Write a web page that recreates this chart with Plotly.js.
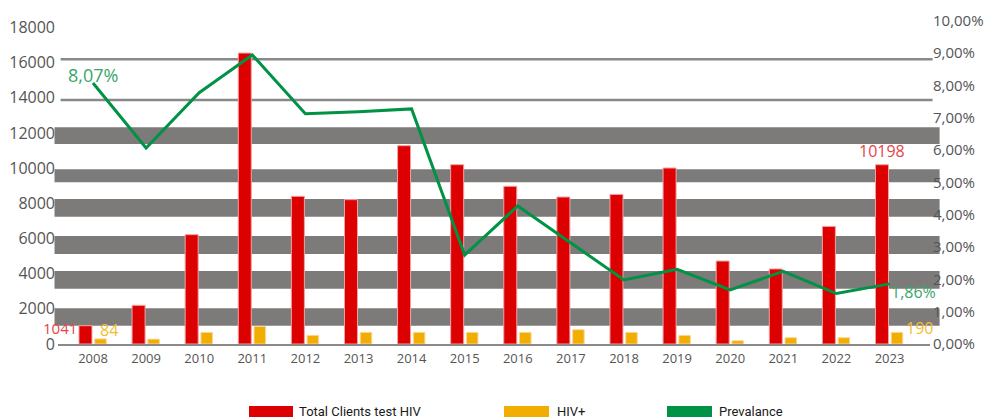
<!DOCTYPE html>
<html>
<head>
<meta charset="utf-8">
<script src="https://cdn.plot.ly/plotly-3.0.1.min.js"></script>
<style>
html,body{margin:0;padding:0;background:#fff;}
#chart{width:986px;height:420px;}
</style>
</head>
<body>
<div id="chart"></div>
<script>
// ---- data ----
const years = ['2008','2009','2010','2011','2012','2013','2014','2015','2016','2017','2018','2019','2020','2021','2022','2023'];
const totalTested = [1041, 2200, 6220, 16550, 8400, 8210, 11280, 10200, 8970, 8360, 8510, 10010, 4720, 4270, 6690, 10198];
const hivPositive = [84, 80, 190, 288, 141, 190, 190, 190, 190, 234, 190, 141, 54, 103, 103, 190];
const prevalence = [8.07, 6.06, 7.77, 8.94, 7.12, 7.18, 7.27, 2.75, 4.27, 3.12, 1.98, 2.31, 1.67, 2.25, 1.56, 1.86];
const seriesNames = ['Total Clients test HIV', 'HIV+', 'Prevalance'];
const leftTicks = [0, 2000, 4000, 6000, 8000, 10000, 12000, 14000, 16000, 18000];

const RED = '#DC0000', YELLOW = '#F2AE00', GREEN = '#009245';
const BAND = '#7d7a7a';
const FONT = 'Open Sans, Noto Sans, sans-serif';

const last = years.length - 1;
const fmtPct = v => v.toFixed(2).replace('.', ',') + '%';

const traces = [
  {
    type: 'bar', name: seriesNames[0], x: years, y: totalTested,
    offset: -0.264, width: 0.245,
    marker: {color: RED, line: {color: '#f3a3a3', width: 1}},
    xaxis: 'x', yaxis: 'y', hoverinfo: 'x+y'
  },
  {
    type: 'bar', name: seriesNames[1], x: years, y: hivPositive,
    offset: 0.033, width: 0.217,
    marker: {color: YELLOW, line: {color: '#f8d69a', width: 1}},
    xaxis: 'x', yaxis: 'y3', hoverinfo: 'x+y'
  },
  {
    type: 'scatter', mode: 'lines', name: seriesNames[2], x: years, y: prevalence,
    line: {color: GREEN, width: 3},
    xaxis: 'x', yaxis: 'y2', hoverinfo: 'x+y'
  }
];

// decorative horizontal bands (plot-area fractions)
const bands = [[0.0565, 0.1102], [0.1707, 0.2253], [0.2778, 0.3333], [0.3929, 0.4475], [0.4991, 0.5392], [0.6173, 0.6688]];
const thinLines = [0.7531, 0.8787];
const shapes = [];
bands.forEach(b => shapes.push({type: 'rect', xref: 'paper', yref: 'paper', x0: -0.004, x1: 1.011, y0: b[0], y1: b[1],
  fillcolor: BAND, line: {width: 0}, layer: 'below'}));
thinLines.forEach(v => shapes.push({type: 'line', xref: 'paper', yref: 'paper', x0: 0.003, x1: 1.003, y0: v, y1: v,
  line: {color: '#8a8888', width: 2.5}, layer: 'below'}));

// custom legend (swatches + labels)
const legendItems = [
  {color: RED, x0: 249, x1: 293, tx: 297, label: seriesNames[0]},
  {color: YELLOW, x0: 504, x1: 549, tx: 555, label: seriesNames[1]},
  {color: GREEN, x0: 667, x1: 712, tx: 717, label: seriesNames[2]}
];
const L = 58, W = 872, T = 20, H = 324;
const px = v => (v - L) / W;
const py = v => (T + H - v) / H;
const annotations = [];
legendItems.forEach(it => {
  shapes.push({type: 'rect', xref: 'paper', yref: 'paper', x0: px(it.x0), x1: px(it.x1), y0: py(417), y1: py(406),
    fillcolor: it.color, line: {width: 0}});
  annotations.push({xref: 'paper', yref: 'paper', x: px(it.tx), y: py(411), text: it.label, showarrow: false,
    xanchor: 'left', yanchor: 'middle', font: {family: 'Roboto, Liberation Sans, sans-serif', size: 13, color: '#1a1a1a'}});
});

// data labels (category index used as x)
annotations.push(
  {xref: 'x', yref: 'y2', x: 0, y: prevalence[0], text: fmtPct(prevalence[0]), showarrow: false,
    xanchor: 'center', yanchor: 'middle', yshift: 8, font: {family: FONT, size: 18, color: '#3aa66a'}},
  {xref: 'x', yref: 'y2', x: last, y: prevalence[last], text: fmtPct(prevalence[last]), showarrow: false,
    xanchor: 'left', yanchor: 'middle', xshift: 0, yshift: -8, font: {family: FONT, size: 16, color: '#3aa66a'}},
  {xref: 'x', yref: 'y', x: 0, y: totalTested[0], text: String(totalTested[0]), showarrow: false,
    xanchor: 'right', yanchor: 'middle', xshift: -14, yshift: -2, font: {family: FONT, size: 15, color: '#e8434a'}},
  {xref: 'x', yref: 'y3', x: 0, y: hivPositive[0], text: String(hivPositive[0]), showarrow: false,
    xanchor: 'center', yanchor: 'middle', xshift: 16, yshift: 9, font: {family: FONT, size: 16, color: '#f5bb2e'}},
  {xref: 'x', yref: 'y', x: last, y: totalTested[last], text: String(totalTested[last]), showarrow: false,
    xanchor: 'center', yanchor: 'middle', xshift: -7, yshift: 14, font: {family: FONT, size: 16, color: '#e8434a'}},
  {xref: 'x', yref: 'y3', x: last, y: hivPositive[last], text: String(hivPositive[last]), showarrow: false,
    xanchor: 'center', yanchor: 'middle', xshift: 30, yshift: 4, font: {family: FONT, size: 16, color: '#f5bb2e'}}
);

const layout = {
  width: 986, height: 420,
  margin: {l: L, r: 986 - L - W, t: T, b: 420 - T - H, pad: 0},
  paper_bgcolor: '#fff', plot_bgcolor: 'rgba(0,0,0,0)',
  showlegend: false,
  separators: ',.',
  barmode: 'overlay',
  font: {family: FONT, color: '#555'},
  xaxis: {type: 'category', range: [-0.659, 15.763], showgrid: false, zeroline: false,
    showline: true, linecolor: '#8a8888', linewidth: 2, ticks: '',
    tickfont: {family: FONT, size: 13, color: '#555'}, ticklabelstandoff: 1},
  yaxis: {range: [0, 18430], tickvals: leftTicks, tickformat: 'd', showgrid: false, zeroline: false,
    showline: false, ticks: '', tickfont: {family: FONT, size: 16, color: '#555'}, ticklabelstandoff: 2},
  yaxis2: {overlaying: 'y', side: 'right', range: [0, 10.02], dtick: 1, tickformat: '.2f', ticksuffix: '%',
    showgrid: false, zeroline: false, showline: false, ticks: '',
    tickfont: {family: FONT, size: 15, color: '#555'}, ticklabelstandoff: 2},
  yaxis3: {overlaying: 'y', range: [0, 5307], showticklabels: false, showgrid: false, zeroline: false, showline: false, ticks: ''},
  shapes: shapes,
  annotations: annotations
};

Plotly.newPlot('chart', traces, layout, {displayModeBar: false});
</script>
</body>
</html>
